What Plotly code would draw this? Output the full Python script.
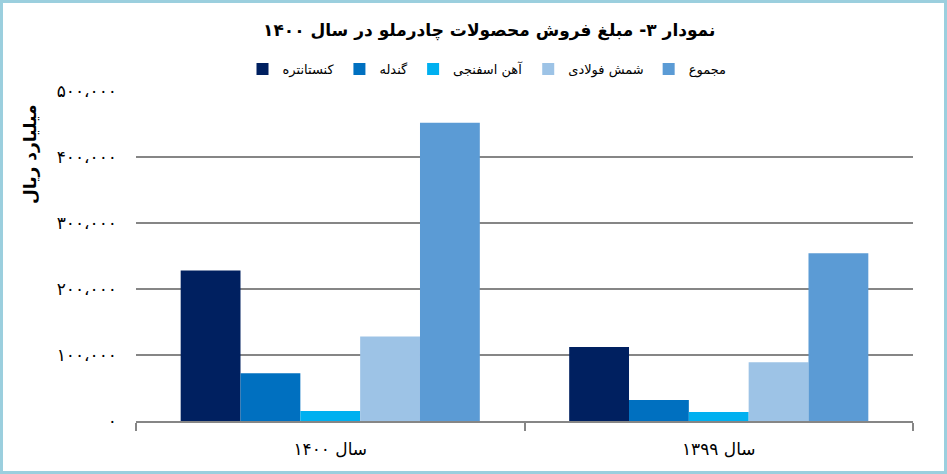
import plotly.graph_objects as go

categories = ["سال ۱۴۰۰", "سال ۱۳۹۹"]
series_names = ["کنستانتره", "گندله", "آهن اسفنجی", "شمش فولادی", "مجموع"]
series_values = [
    [228000, 112000],
    [72500, 32000],
    [15000, 13800],
    [128000, 89000],
    [452000, 254000],
]
colors = ["#002060", "#0070C0", "#00B0F0", "#9DC3E6", "#5B9BD5"]
tick_vals = [0, 100000, 200000, 300000, 400000, 500000]
tick_text = ["۰", "۱۰۰،۰۰۰", "۲۰۰،۰۰۰", "۳۰۰،۰۰۰", "۴۰۰،۰۰۰", "۵۰۰،۰۰۰"]
title_text = "نمودار ۳- مبلغ فروش محصولات چادرملو در سال ۱۴۰۰"
y_title = "میلیارد ریال"

W, H = 947, 474
L, R, T, B = 136, 34, 91, 53
pw, ph = W - L - R, H - T - B

def px2x(px):
    return (px - L) / pw

def py2y(py):
    return (H - B - py) / ph

FONT = "DejaVu Sans"

fig = go.Figure()
for name, vals, c in zip(series_names, series_values, colors):
    fig.add_trace(go.Bar(x=categories, y=vals, name=name, marker=dict(color=c, line=dict(width=0))))

fig.update_layout(
    width=W, height=H,
    margin=dict(l=L, r=R, t=T, b=B),
    paper_bgcolor="white", plot_bgcolor="white",
    barmode="group", bargap=0.23, bargroupgap=0,
    font=dict(family=FONT, color="black"),
    showlegend=True,
    legend=dict(orientation="h", x=px2x(487), xanchor="center", y=py2y(69), yanchor="middle",
                font=dict(size=13, family=FONT), itemwidth=30, traceorder="normal",
                bgcolor="rgba(0,0,0,0)"),
    xaxis=dict(showline=True, linecolor="#868686", linewidth=1.5, ticks="outside",
               tickson="boundaries", ticklen=8, tickcolor="#868686", tickwidth=1.5,
               tickfont=dict(size=17, family=FONT), showgrid=False, ticklabelstandoff=12),
    yaxis=dict(range=[0, 500000], tickvals=tick_vals, ticktext=tick_text,
               showgrid=True, gridcolor="#868686", gridwidth=1.5, showline=False,
               zeroline=False, ticks="", tickfont=dict(size=17, family=FONT), ticklabelstandoff=18),
)

fig.add_annotation(text="<b>" + title_text + "</b>", xref="paper", yref="paper",
                   x=px2x(489), y=py2y(30), xanchor="center", yanchor="middle",
                   showarrow=False, font=dict(size=17, family=FONT, color="black"))
fig.add_annotation(text="<b>" + y_title + "</b>", xref="paper", yref="paper",
                   x=px2x(30), y=py2y(155), xanchor="center", yanchor="middle",
                   textangle=-90, showarrow=False, font=dict(size=17, family=FONT, color="black"))

fig.add_shape(type="rect", xref="paper", yref="paper",
              x0=px2x(1.5), x1=px2x(945.5), y0=py2y(472.5), y1=py2y(1.5),
              line=dict(color="#9BCFDE", width=3), layer="above")

fig.write_html("out.html")
